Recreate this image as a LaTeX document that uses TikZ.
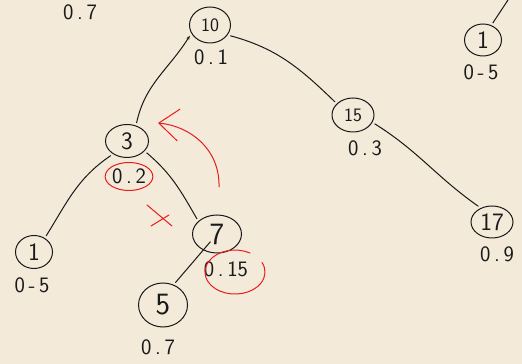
\documentclass[tikz,border=0pt]{standalone}
\usepackage{xcolor}
\definecolor{paper}{RGB}{243,234,218}
\definecolor{ink}{RGB}{25,25,25}
\definecolor{redink}{RGB}{232,28,28}
\usepackage{tikz}
\usetikzlibrary{arrows.meta,positioning,shapes.geometric}
\tikzset{
  key/.style={ellipse,draw=ink,line width=1pt,inner sep=0pt,outer sep=3pt,%
    font=\sffamily\fontsize{25}{25}\selectfont,text=ink},
  smallkey/.style={key,font=\sffamily\fontsize{19}{19}\selectfont},
  bigkey/.style={key,font=\sffamily\fontsize{31}{31}\selectfont},
  prob/.style={inner sep=0pt,font=\sffamily\fontsize{22}{22}\selectfont,text=ink},
  edge/.style={draw=ink,line width=1pt},
  redline/.style={draw=redink,line width=1pt,line cap=round,line join=round},
}

\begin{document}
\begin{tikzpicture}[x=1pt,y=1pt]
\fill[paper] (0,0) rectangle (522,364);
\useasboundingbox (0,0) rectangle (522,364);
% keys
\node[smallkey,minimum width=41pt,minimum height=36pt] (n10) at (210,339) {10};
\node[key,minimum width=43pt,minimum height=33pt] (n3) at (127,223) {3};
\node[smallkey,minimum width=42pt,minimum height=34pt] (n15) at (353,249) {15};
\node[key,minimum width=37pt,minimum height=32pt] (n1r) at (483,324) {1};
\node[key,minimum width=42pt,minimum height=32pt] (n17) at (492,142) {17};
\node[key,minimum width=37pt,minimum height=33pt] (n1l) at (34,112) {1};
\node[bigkey,minimum width=49pt,minimum height=38pt] (n7) at (217,130) {7};
\node[bigkey,minimum width=49pt,minimum height=44pt] (n5) at (163,59) {5};
% priorities
\node[prob] (p0) at (80,352) {0\,.\,7};
\node[prob,below=4pt of n10,xshift=1pt] (p10) {0\,.\,1};
\node[prob,ellipse,draw=redink,line width=1pt,minimum width=43pt,minimum height=28pt,%
  below=1.5pt of n3,xshift=2pt] (p3) {0\,.\,2};
\node[prob,below=6pt of n15,xshift=12pt] (p15) {0\,.\,3};
\node[prob,below=6pt of n1r,xshift=-2pt] (p1r) {0\,-\,5};
\node[prob,below=6pt of n17,xshift=5pt] (p17) {0\,.\,9};
\node[prob,below=6pt of n1l,xshift=-2pt] (p1l) {0\,-\,5};
\node[prob,below=6pt of n7,xshift=9pt] (p7) {0\,.\,15};
\node[prob,below=10pt of n5,xshift=-5pt] (p5) {0\,.\,7};
\coordinate (up1r) at (508,364);
% tree
\draw[edge,-{Stealth[length=4pt,width=3pt]}] (n3.62) to[out=78,in=238] (n10.208);
\draw[edge] (n10.332) to[out=-15,in=136] (n15.144);
\draw[edge] (n15.338) to[out=-32,in=145] (n17.131);
\draw[edge] (n1r.60) -- (up1r);
\draw[edge] (n3.222) to[out=214,in=58] (n1l.53);
\draw[edge] (n3.329) to[out=-40,in=120] (n7.143);
\draw[edge,shorten <=10pt] (n7.center) -- (n5.61);
% rotation marks
\coordinate (turnA) at (219,177);
\coordinate (turnB) at (158,241);
\draw[redline,-{Straight Barb[length=20pt,width=32pt]}] (turnA)
  .. controls (220,215) and (190,238) .. (turnB);
\draw[redline] (147,159) -- (172,138) (151,138) -- (169,149);
\draw[redline] (250,111) arc[start angle=60,end angle=386,x radius=30pt,y radius=22pt];
\end{tikzpicture}
\end{document}
